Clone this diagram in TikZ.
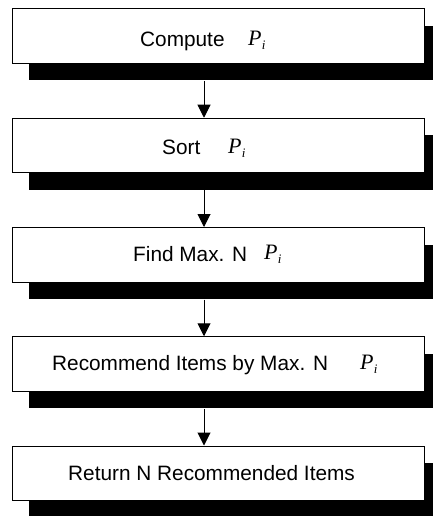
\documentclass[tikz,border=0pt]{standalone}
\usepackage{fontspec}
\setmainfont{Liberation Sans}
\newfontfamily\pfont{Liberation Serif}
\usetikzlibrary{arrows.meta,shadows}
\newcommand\pvarsym{P\kern0.3pt\raisebox{-4pt}{\fontsize{13}{13}\selectfont i}}
\tikzset{
  box/.style={draw=black, line width=1pt, fill=white, minimum width=412pt,
    minimum height=54.5pt, inner sep=0pt,
    drop shadow={shadow xshift=17pt, shadow yshift=-17pt, fill=black, opacity=1}},
  lbl/.style={anchor=base west, inner sep=0pt, font=\fontsize{20.8}{24}\selectfont},
  pvar/.style={anchor=base west, inner sep=0pt, font=\fontsize{22}{24}\selectfont\pfont\itshape},
  flow/.style={line width=1pt, -{Triangle[length=13pt,width=13pt]}}
}
\begin{document}
\begin{tikzpicture}[x=1pt,y=1pt]
\useasboundingbox (0,0) rectangle (433,-516);
\clip (0,0) rectangle (433,-516);
\node[box] (b1) at (218,-36.25) {};
\node[box] (b2) at (218,-145.5) {};
\node[box] (b3) at (218,-254.75) {};
\node[box] (b4) at (218,-364) {};
\node[box] (b5) at (218,-473.25) {};
\node[lbl] (t1) at (140,-46.7) {Compute};
\node[pvar] (p1) at (248,-45.2) {\pvarsym};
\node[lbl] (t2) at (162,-154.5) {Sort};
\node[pvar] (p2) at (228,-153) {\pvarsym};
\node[lbl] (t3) at (133,-261) {Find Max. N};
\node[pvar] (p3) at (264,-259.5) {\pvarsym};
\node[lbl] (t4) at (52,-370.5) {Recommend Items by Max. N};
\node[pvar] (p4) at (360,-369) {\pvarsym};
\node[lbl] (t5) at (68,-480.5) {Return N Recommended Items};
\foreach \a/\b in {b1/b2,b2/b3,b3/b4,b4/b5}
  \draw[flow] ([xshift=-14pt,yshift=-17pt]\a.south) -- ([xshift=-14pt]\b.north);
\end{tikzpicture}
\end{document}
